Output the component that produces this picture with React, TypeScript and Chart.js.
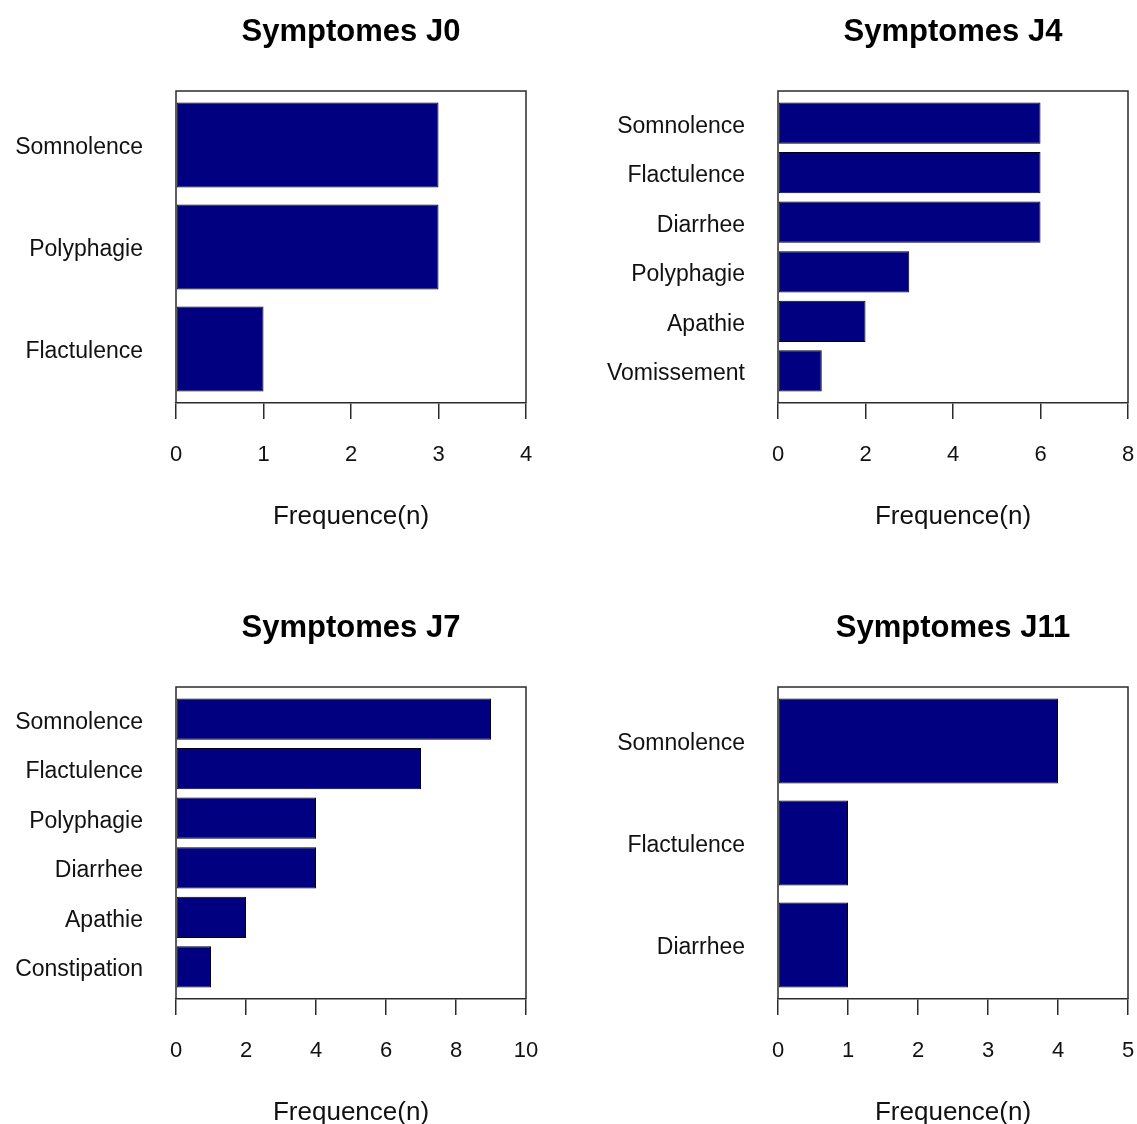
import React, { useEffect, useRef } from 'react';
import { Chart, registerables } from 'chart.js';

Chart.register(...registerables);

// ---- Data ----
const j0Categories = ['Somnolence', 'Polyphagie', 'Flactulence'];
const j0Values = [3, 3, 1];
const j0XTicks = [0, 1, 2, 3, 4];

const j4Categories = ['Somnolence', 'Flactulence', 'Diarrhee', 'Polyphagie', 'Apathie', 'Vomissement'];
const j4Values = [6, 6, 6, 3, 2, 1];
const j4XTicks = [0, 2, 4, 6, 8];

const j7Categories = ['Somnolence', 'Flactulence', 'Polyphagie', 'Diarrhee', 'Apathie', 'Constipation'];
const j7Values = [9, 7, 4, 4, 2, 1];
const j7XTicks = [0, 2, 4, 6, 8, 10];

const j11Categories = ['Somnolence', 'Flactulence', 'Diarrhee'];
const j11Values = [4, 1, 1];
const j11XTicks = [0, 1, 2, 3, 4, 5];

const panelTitles = ['Symptomes J0', 'Symptomes J4', 'Symptomes J7', 'Symptomes J11'];
const xAxisTitle = 'Frequence(n)';

// ---- Styles ----
const FONT = '"Liberation Sans", Arial, Helvetica, sans-serif';
const AXIS_COLOR = '#2b2b2b';
const TEXT_COLOR = '#111111';
const BAR_COLOR = '#000080';

const framePlugin = {
  id: 'rFrame',
  afterDatasetsDraw(chart: any) {
    const { ctx, chartArea: a } = chart;
    ctx.save();
    ctx.strokeStyle = AXIS_COLOR;
    ctx.lineWidth = 1.5;
    ctx.beginPath();
    ctx.moveTo(a.left, a.bottom);
    ctx.lineTo(a.left, a.top);
    ctx.lineTo(a.right, a.top);
    ctx.lineTo(a.right, a.bottom);
    ctx.stroke();
    ctx.restore();
  },
};

type PanelProps = {
  title: string;
  categories: string[];
  values: number[];
  xTicks: number[];
  left: number;
  top: number;
  width: number;
  height: number;
  padRight: number;
};

function Panel({ title, categories, values, xTicks, left, top, width, height, padRight }: PanelProps) {
  const ref = useRef<HTMLCanvasElement | null>(null);

  useEffect(() => {
    if (!ref.current) return;
    const n = categories.length;
    // R barplot layout: width 1, space 0.2 -> centre of bar i at 0.7 + 1.2*i
    const positions = categories.map((_, i) => 0.7 + 1.2 * i);
    const span = 1.2 * n - 0.2;
    const yMin = 0.2 - 0.04 * span;
    const yMax = 1.2 * n + 0.04 * span;

    const chart = new Chart(ref.current, {
      type: 'bar',
      data: {
        datasets: [
          {
            data: values.map((v, i) => ({ x: v, y: positions[i] })),
            backgroundColor: BAR_COLOR,
            borderColor: '#000000',
            borderWidth: 1,
            borderSkipped: false,
            categoryPercentage: 1,
            barPercentage: 1 / 1.2,
          } as any,
        ],
      },
      options: {
        indexAxis: 'y',
        animation: false,
        responsive: false,
        devicePixelRatio: 1,
        layout: { padding: { top: 0, left: 0, right: padRight, bottom: 0 } },
        plugins: {
          legend: { display: false },
          tooltip: { enabled: false },
          title: {
            display: true,
            text: title,
            fullSize: false,
            color: '#000000',
            font: { family: FONT, size: 31, weight: 'bold', lineHeight: 1.2 },
            padding: { top: 13.4, bottom: 40.4 },
          },
        },
        scales: {
          x: {
            type: 'linear',
            min: xTicks[0],
            max: xTicks[xTicks.length - 1],
            afterBuildTicks: (s: any) => {
              s.ticks = xTicks.map((v) => ({ value: v }));
            },
            afterFit: (s: any) => {
              s.height = 157;
              s.paddingLeft = 0;
              s.paddingRight = 0;
            },
            grid: {
              display: true,
              drawOnChartArea: false,
              drawTicks: true,
              tickLength: 16,
              color: AXIS_COLOR,
              lineWidth: 1.5,
            },
            border: { display: true, color: AXIS_COLOR, width: 1.5 },
            ticks: {
              font: { family: FONT, size: 22 },
              color: TEXT_COLOR,
              padding: 23,
              maxRotation: 0,
              autoSkip: false,
            },
            title: {
              display: true,
              text: xAxisTitle,
              color: TEXT_COLOR,
              font: { family: FONT, size: 26, lineHeight: 1.2 },
              padding: { top: 0, bottom: 28 },
            },
          },
          y: {
            type: 'linear',
            reverse: true,
            offset: false,
            min: yMin,
            max: yMax,
            afterBuildTicks: (s: any) => {
              s.ticks = positions.map((v) => ({ value: v }));
            },
            afterFit: (s: any) => {
              s.width = 176;
            },
            grid: { display: false, drawTicks: false, offset: false },
            border: { display: false },
            ticks: {
              font: { family: FONT, size: 23 },
              color: TEXT_COLOR,
              padding: 33,
              labelOffset: 3,
              autoSkip: false,
              callback: (_v: any, i: number) => categories[i],
            },
          },
        },
      } as any,
      plugins: [framePlugin],
    });
    return () => chart.destroy();
  }, []);

  return (
    <canvas
      ref={ref}
      width={width}
      height={height}
      style={{ position: 'absolute', left, top, width, height, display: 'block' }}
    />
  );
}

export default function App() {
  return (
    <div
      style={{
        position: 'fixed',
        left: 0,
        top: 0,
        width: 1137,
        height: 1124,
        overflow: 'hidden',
        background: '#ffffff',
      }}
    >
      <Panel title={panelTitles[0]} categories={j0Categories} values={j0Values} xTicks={j0XTicks}
        left={0} top={0} width={560} height={560} padRight={34} />
      <Panel title={panelTitles[1]} categories={j4Categories} values={j4Values} xTicks={j4XTicks}
        left={602} top={0} width={535} height={560} padRight={9} />
      <Panel title={panelTitles[2]} categories={j7Categories} values={j7Values} xTicks={j7XTicks}
        left={0} top={596} width={560} height={560} padRight={34} />
      <Panel title={panelTitles[3]} categories={j11Categories} values={j11Values} xTicks={j11XTicks}
        left={602} top={596} width={535} height={560} padRight={9} />
    </div>
  );
}
